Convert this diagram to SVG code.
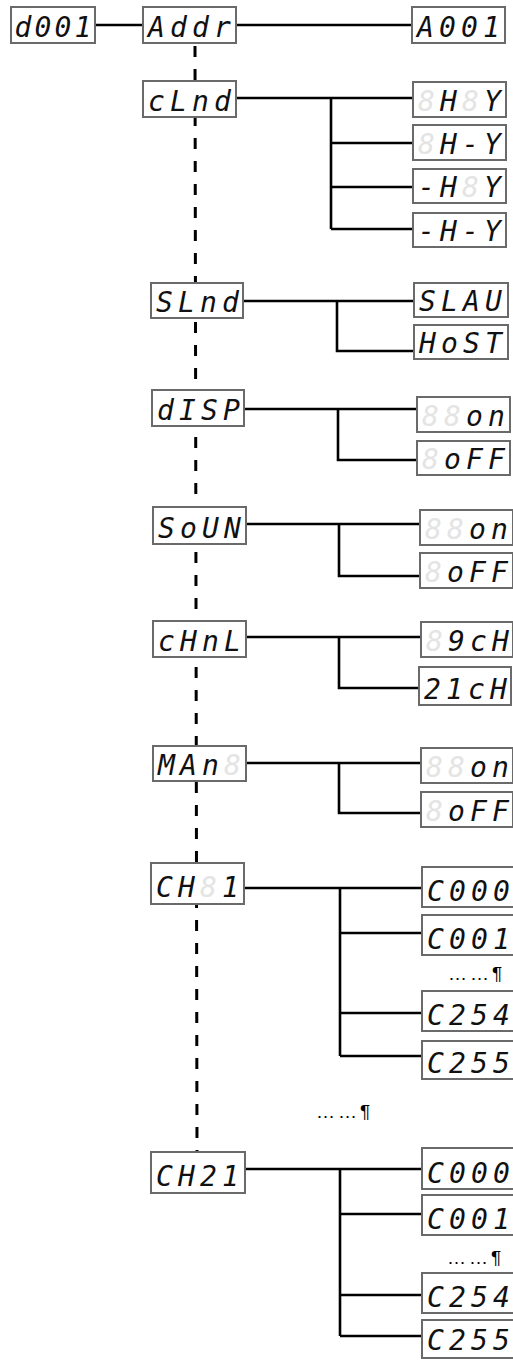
<svg xmlns="http://www.w3.org/2000/svg" width="513" height="1360" viewBox="0 0 513 1360">
<style>
.box{fill:#ffffff;stroke:#6a6a6a;stroke-width:2}
.lit{font-family:"DejaVu Sans Mono","Liberation Mono",monospace;font-style:oblique;font-size:28px;fill:#111;text-anchor:middle}
.ghost{font-family:"DejaVu Sans Mono","Liberation Mono",monospace;font-style:oblique;font-size:28px;fill:#e4e4e4;text-anchor:middle}
.wire{stroke:#000;stroke-width:2.6;fill:none}
.dash{stroke:#000;stroke-width:3;fill:none;stroke-dasharray:11 12}
.dots{font-family:"Liberation Sans",Arial,sans-serif;font-size:19px;fill:#000;letter-spacing:3px}
</style>
<rect width="513" height="1360" fill="#fff"/>
<g id="connectors">
<line class="dash" x1="195" y1="46" x2="197" y2="1152"/>
<path class="wire" d="M95 25H143M236 25H412"/>
<path class="wire" d="M236 98H413M331 98V229M331 143H413M331 187H413M331 229H413"/>
<path class="wire" d="M242 301H414M337 301V351H414"/>
<path class="wire" d="M244 409H417M338 409V460H417"/>
<path class="wire" d="M246 524H420M339 524V576H420"/>
<path class="wire" d="M246 637H421M339 637V688H419"/>
<path class="wire" d="M246 763H421M339 763V813H421"/>
<path class="wire" d="M244 888H422M340 888V1056M340 933H422M340 1013H422M340 1056H422"/>
<path class="wire" d="M245 1169H422M340 1169V1336M340 1214H422M340 1295H422M340 1336H422"/>
</g>
<g id="n-d001"><rect class="box" x="11" y="7" width="84" height="36"/><text class="lit" x="23 43 63 83" y="37">d001</text></g>
<g id="n-addr"><rect class="box" x="143" y="7" width="93" height="36"/><text class="lit" x="156.5 178.5 200.5 222.5" y="37">Addr</text></g>
<g id="n-a001"><rect class="box" x="412" y="7" width="93" height="36"/><text class="lit" x="425.5 447.5 469.5 491.5" y="37">A001</text></g>
<g id="n-clnd"><rect class="box" x="143" y="81" width="93" height="36"/><text class="lit" x="156.5 178.5 200.5 222.5" y="111">cLnd</text></g>
<g id="n-hy"><rect class="box" x="413" y="82" width="93" height="35"/><text class="ghost" x="426.5" y="111">8</text><text class="lit" x="448.5" y="111">H</text><text class="ghost" x="470.5" y="111">8</text><text class="lit" x="492.5" y="111">Y</text></g>
<g id="n-h-y"><rect class="box" x="413" y="125" width="93" height="35"/><text class="ghost" x="426.5" y="154">8</text><text class="lit" x="448.5 470.5 492.5" y="154">H-Y</text></g>
<g id="n-mhy"><rect class="box" x="413" y="169" width="93" height="34"/><text class="lit" x="426.5 448.5" y="197">-H</text><text class="ghost" x="470.5" y="197">8</text><text class="lit" x="492.5" y="197">Y</text></g>
<g id="n-mh-y"><rect class="box" x="413" y="213" width="93" height="34"/><text class="lit" x="426.5 448.5 470.5 492.5" y="241">-H-Y</text></g>
<g id="n-slnd"><rect class="box" x="151" y="283" width="92" height="35"/><text class="lit" x="164.5 186.5 208.5 230.5" y="312">SLnd</text></g>
<g id="n-slau"><rect class="box" x="414" y="283" width="94" height="34"/><text class="lit" x="427.5 449.5 471.5 493.5" y="311">SLAU</text></g>
<g id="n-host"><rect class="box" x="414" y="325" width="94" height="34"/><text class="lit" x="427.5 449.5 471.5 493.5" y="353">HoST</text></g>
<g id="n-disp"><rect class="box" x="152" y="390" width="92" height="36"/><text class="lit" x="165.5 187.5 209.5 231.5" y="420">dISP</text></g>
<g id="n-disp-on"><rect class="box" x="417" y="397" width="93" height="35"/><text class="ghost" x="430.5 452.5" y="426">88</text><text class="lit" x="474.5 496.5" y="426">on</text></g>
<g id="n-disp-off"><rect class="box" x="417" y="441" width="93" height="34"/><text class="ghost" x="430.5" y="469">8</text><text class="lit" x="452.5 474.5 496.5" y="469">oFF</text></g>
<g id="n-soun"><rect class="box" x="153" y="507" width="93" height="37"/><text class="lit" x="166.5 188.5 210.5 232.5" y="538">SoUN</text></g>
<g id="n-soun-on"><rect class="box" x="420" y="510" width="93" height="35"/><text class="ghost" x="433.5 455.5" y="539">88</text><text class="lit" x="477.5 499.5" y="539">on</text></g>
<g id="n-soun-off"><rect class="box" x="420" y="553" width="93" height="35"/><text class="ghost" x="433.5" y="582">8</text><text class="lit" x="455.5 477.5 499.5" y="582">oFF</text></g>
<g id="n-chnl"><rect class="box" x="153" y="621" width="93" height="36"/><text class="lit" x="166.5 188.5 210.5 232.5" y="651">cHnL</text></g>
<g id="n-9ch"><rect class="box" x="421" y="622" width="92" height="35"/><text class="ghost" x="434.5" y="651">8</text><text class="lit" x="456.5 478.5 500.5" y="651">9cH</text></g>
<g id="n-21ch"><rect class="box" x="419" y="667" width="92" height="38"/><text class="lit" x="432.5 454.5 476.5 498.5" y="699">21cH</text></g>
<g id="n-man"><rect class="box" x="153" y="746" width="93" height="35"/><text class="lit" x="166.5 188.5 210.5" y="775">MAn</text><text class="ghost" x="232.5" y="775">8</text></g>
<g id="n-man-on"><rect class="box" x="421" y="748" width="92" height="35"/><text class="ghost" x="434.5 456.5" y="777">88</text><text class="lit" x="478.5 500.5" y="777">on</text></g>
<g id="n-man-off"><rect class="box" x="421" y="792" width="92" height="35"/><text class="ghost" x="434.5" y="821">8</text><text class="lit" x="456.5 478.5 500.5" y="821">oFF</text></g>
<g id="n-ch1"><rect class="box" x="151" y="863" width="93" height="41"/><text class="lit" x="164.5 186.5" y="897">CH</text><text class="ghost" x="208.5" y="897">8</text><text class="lit" x="230.5" y="897">1</text></g>
<g id="n-ch1-c000"><rect class="box" x="422" y="867" width="93" height="40"/><text class="lit" x="435.5 457.5 479.5 501.5" y="901">C000</text></g>
<g id="n-ch1-c001"><rect class="box" x="422" y="915" width="93" height="40"/><text class="lit" x="435.5 457.5 479.5 501.5" y="949">C001</text></g>
<g id="n-ch1-dots"><text class="dots" x="448" y="980">……¶</text></g>
<g id="n-ch1-c254"><rect class="box" x="422" y="991" width="93" height="40"/><text class="lit" x="435.5 457.5 479.5 501.5" y="1025">C254</text></g>
<g id="n-ch1-c255"><rect class="box" x="422" y="1041" width="93" height="38"/><text class="lit" x="435.5 457.5 479.5 501.5" y="1073">C255</text></g>
<g id="n-mid-dots"><text class="dots" x="316" y="1118">……¶</text></g>
<g id="n-ch21"><rect class="box" x="151" y="1152" width="94" height="41"/><text class="lit" x="164.5 186.5 208.5 230.5" y="1186">CH21</text></g>
<g id="n-ch21-c000"><rect class="box" x="422" y="1148" width="93" height="41"/><text class="lit" x="435.5 457.5 479.5 501.5" y="1183">C000</text></g>
<g id="n-ch21-c001"><rect class="box" x="422" y="1195" width="93" height="40"/><text class="lit" x="435.5 457.5 479.5 501.5" y="1229">C001</text></g>
<g id="n-ch21-dots"><text class="dots" x="447" y="1264">……¶</text></g>
<g id="n-ch21-c254"><rect class="box" x="422" y="1273" width="93" height="40"/><text class="lit" x="435.5 457.5 479.5 501.5" y="1307">C254</text></g>
<g id="n-ch21-c255"><rect class="box" x="422" y="1320" width="93" height="38"/><text class="lit" x="435.5 457.5 479.5 501.5" y="1350">C255</text></g>
</svg>
